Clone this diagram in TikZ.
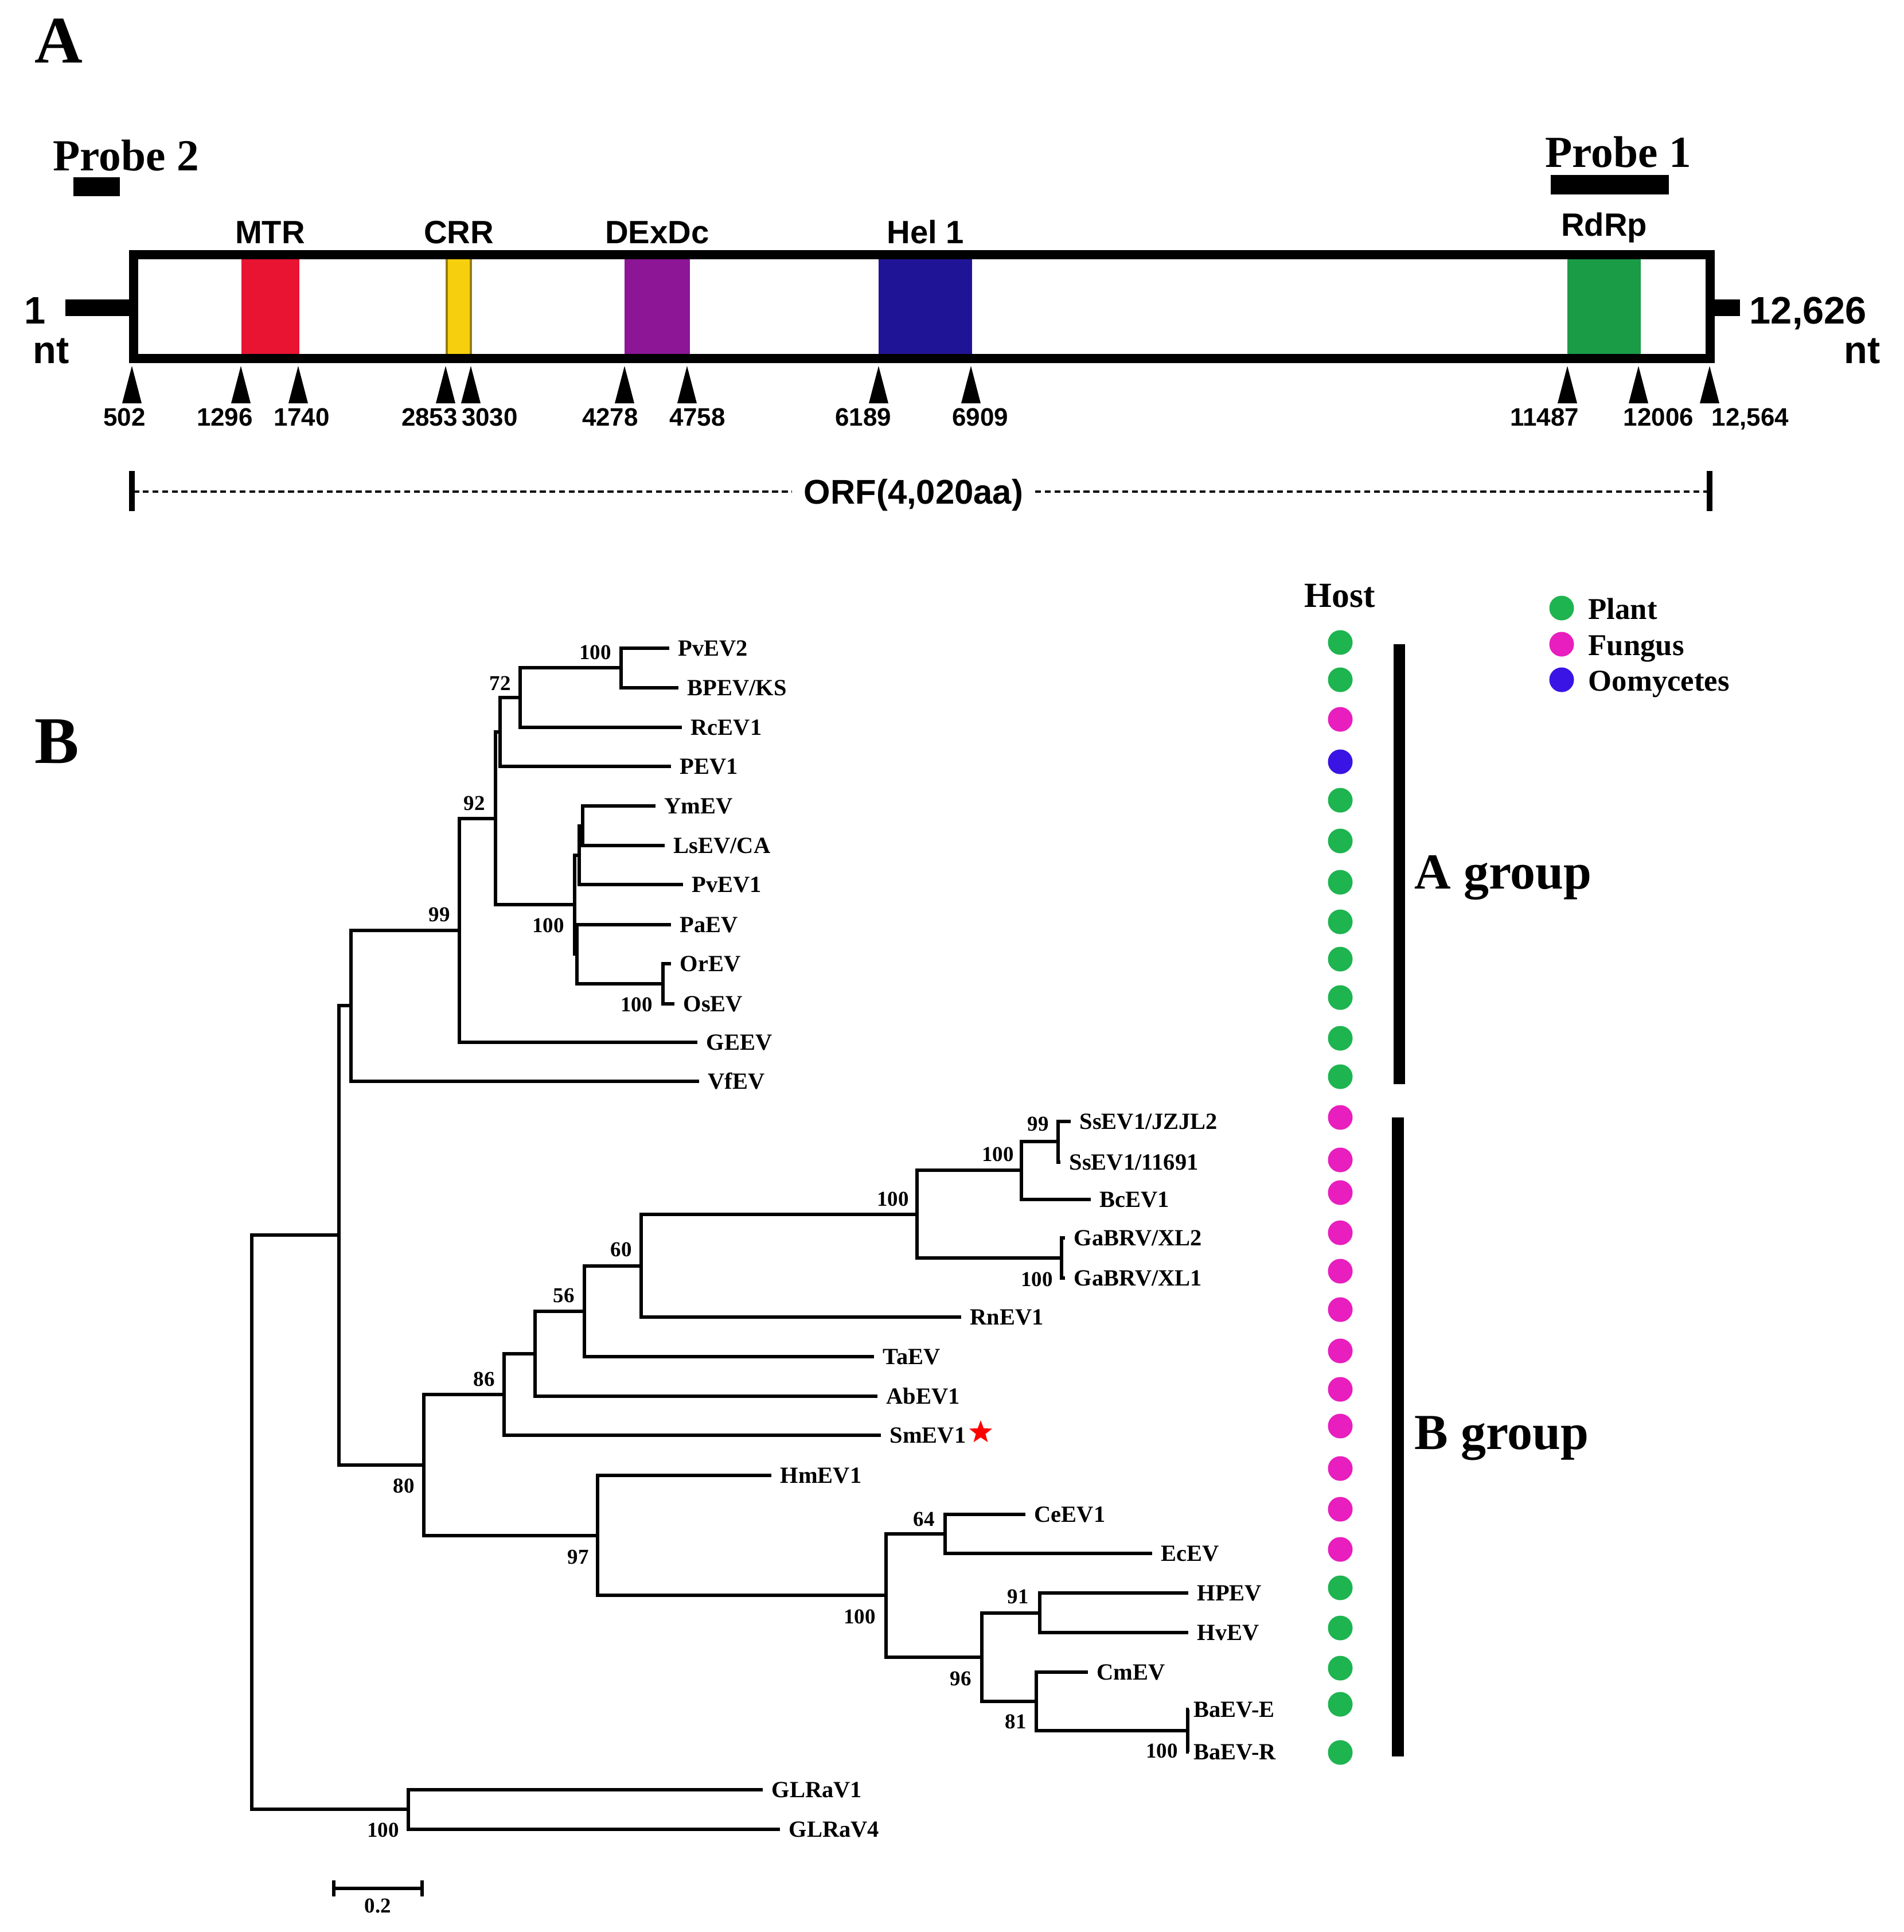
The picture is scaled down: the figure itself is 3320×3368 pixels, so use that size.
\documentclass[tikz,border=0pt]{standalone}
\usepackage{fontspec}
\setmainfont{Liberation Serif}
\setsansfont{Liberation Sans}
\usetikzlibrary{shapes.geometric}
\definecolor{mtrred}{RGB}{232,20,50}
\definecolor{crryel}{RGB}{246,208,14}
\definecolor{crrolive}{RGB}{150,125,20}
\definecolor{dexpur}{RGB}{140,22,150}
\definecolor{helblue}{RGB}{32,20,150}
\definecolor{rdrpgrn}{RGB}{26,155,70}
\definecolor{hostgreen}{RGB}{30,180,80}
\definecolor{hostmag}{RGB}{232,30,190}
\definecolor{hostblue}{RGB}{58,20,228}
\newcommand\mkclade[3]{\draw[br] (#2) -| (#1) |- (#3);}
\begin{document}
\begin{tikzpicture}[x=0.01cm,y=-0.01cm,
 panel/.style={font=\fontsize{33}{33}\selectfont\bfseries, inner sep=0},
 probe/.style={font=\fontsize{22}{22}\selectfont\bfseries, inner sep=0},
 dom/.style={font=\sffamily\bfseries\fontsize{16}{16}\selectfont, inner sep=0},
 poslab/.style={font=\sffamily\bfseries\fontsize{12.5}{12.5}\selectfont, inner sep=0},
 ends/.style={font=\sffamily\bfseries\fontsize{19}{19}\selectfont, inner sep=0},
 orfs/.style={font=\sffamily\bfseries\fontsize{17}{17}\selectfont, inner ysep=0, inner xsep=0.2cm},
 leaf/.style={font=\bfseries\fontsize{11.5}{11.5}\selectfont, anchor=west, inner xsep=1.5mm, inner ysep=0, text height=7.6pt, text depth=0pt},
 boot/.style={font=\bfseries\fontsize{10.5}{10.5}\selectfont, inner sep=0},
 br/.style={line width=1.5pt},
 hdot/.style={circle, minimum size=0.43cm, inner sep=0, draw=none},
 leg/.style={font=\bfseries\fontsize{15}{15}\selectfont, anchor=west, inner sep=0, text height=10pt, text depth=0pt},
 grp/.style={font=\bfseries\fontsize{25}{25}\selectfont, anchor=base west, inner sep=0},
 tri/.style={fill=black},
 orfdash/.style={line width=1.3pt, dash pattern=on 3pt off 1.8pt}
]
\useasboundingbox (0,0) rectangle (3320,3368);
\fill[white] (0,0) rectangle (3320,3368);

% ---------------- Panel A ----------------
\node[panel, anchor=base west] (pA) at (60,109) {A};
\node[probe, anchor=base west] (pr2) at (92,297) {Probe 2};
\fill (128,309) rectangle (209,342);
\node[probe, anchor=base west] (pr1) at (2694,291) {Probe 1};
\fill (2704,305) rectangle (2910,339);

% domains
\fill[mtrred] (421,444) rectangle (522,625);
\draw[crrolive, line width=1pt, fill=crryel] (779,444) rectangle (821,625);
\fill[dexpur] (1089,444) rectangle (1203,625);
\fill[helblue] (1532,444) rectangle (1695,625);
\fill[rdrpgrn] (2733,444) rectangle (2861,625);
% genome box
\draw[line width=4.3pt] (233,444) rectangle (2982,625);
\fill (114,522) rectangle (233,551);
\fill (2982,522) rectangle (3034,551);

\node[dom, anchor=base] (lmtr) at (471,424) {MTR};
\node[dom, anchor=base] (lcrr) at (800,424) {CRR};
\node[dom, anchor=base] (ldex) at (1146,424) {DExDc};
\node[dom, anchor=base] (lhel) at (1614,424) {Hel 1};
\node[dom, anchor=base] (lrdrp) at (2797,411) {RdRp};

\node[ends, anchor=base] (one) at (61,564) {1};
\node[ends, anchor=base] (ntl) at (89,633) {nt};
\node[ends, anchor=base west] (last) at (3050,564) {12,626};
\node[ends, anchor=base] (ntr) at (3247,633) {nt};

% position markers
\foreach \x in {230,420,520,777,821,1089,1198,1532,1693,2733,2857,2981}
  \fill[tri] (\x-17,703) -- (\x,638) -- (\x+17,703) -- cycle;
\foreach \x/\t [count=\i] in {217/502,392/1296,526/1740,749/2853,854/3030,1064/4278,1216/4758,1505/6189,1709/6909,2693/11487,2892/12006,3052/{12,564}}
  \node[poslab, anchor=base] (ps\i) at (\x,742) {\t};

% ORF
\draw[line width=3pt] (230,821) -- (230,891);
\draw[line width=3pt] (2981,821) -- (2981,891);
\coordinate (orfl) at (232,857);
\coordinate (orfr) at (2979,857);
\node[orfs, anchor=base] (orf) at (1593,878) {ORF(4,020aa)};
\draw[orfdash] (orfl) -- (orfl -| orf.west);
\draw[orfdash] (orfr -| orf.east) -- (orfr);

% ---------------- Panel B ----------------
\node[panel, anchor=base west] (pB) at (60,1330) {B};

% leaves, A group
\node[leaf] (pvevtwo) at (1167,1130) {PvEV2};
\node[leaf] (bpev) at (1183,1199) {BPEV/KS};
\node[leaf] (rcev) at (1189,1268) {RcEV1};
\node[leaf] (pev) at (1170,1336) {PEV1};
\node[leaf] (ymev) at (1143,1405) {YmEV};
\node[leaf] (lsev) at (1159,1474) {LsEV/CA};
\node[leaf] (pvevone) at (1191,1542) {PvEV1};
\node[leaf] (paev) at (1170,1612) {PaEV};
\node[leaf] (orev) at (1170,1680) {OrEV};
\node[leaf] (osev) at (1176,1750) {OsEV};
\node[leaf] (geev) at (1216,1817) {GEEV};
\node[leaf] (vfev) at (1219,1885) {VfEV};
% leaves, B group
\node[leaf] (ssj) at (1867,1955) {SsEV1/JZJL2};
\node[leaf] (sso) at (1849,2026) {SsEV1/11691};
\node[leaf] (bcev) at (1902,2091) {BcEV1};
\node[leaf] (gaxtwo) at (1857,2158) {GaBRV/XL2};
\node[leaf] (gaxone) at (1857,2228) {GaBRV/XL1};
\node[leaf] (rnev) at (1676,2296) {RnEV1};
\node[leaf] (taev) at (1524,2365) {TaEV};
\node[leaf] (abev) at (1530,2434) {AbEV1};
\node[leaf] (smev) at (1536,2502) {SmEV1};
\node[leaf] (hmev) at (1345,2572) {HmEV1};
\node[leaf] (ceev) at (1788,2640) {CeEV1};
\node[leaf] (ecev) at (2009,2708) {EcEV};
\node[leaf] (hpev) at (2072,2777) {HPEV};
\node[leaf] (hvev) at (2072,2846) {HvEV};
\node[leaf] (cmev) at (1897,2915) {CmEV};
\node[leaf, inner xsep=0.8mm] (baeve) at (2073,2980) {BaEV-E};
\node[leaf, inner xsep=0.8mm] (baevr) at (2073,3054) {BaEV-R};
\node[leaf] (glone) at (1330,3120) {GLRaV1};
\node[leaf] (glfour) at (1360,3189) {GLRaV4};
\node[star, star points=5, star point ratio=2.4, fill=red, inner sep=0, minimum size=0.42cm] (star) at (1710,2497) {};

% internal nodes
\coordinate (a1) at (1083,1164);
\coordinate (a2) at (907,1216);
\coordinate (a3) at (872,1276);
\coordinate (a4) at (1156,1715);
\coordinate (a5) at (1016,1440);
\coordinate (a6) at (1010,1491);
\coordinate (a7) at (1006,1663);
\coordinate (a8) at (1002,1577);
\coordinate (a9) at (864,1427);
\coordinate (a10) at (801,1622);
\coordinate (a11) at (612,1753);
\coordinate (b1) at (1845,1990);
\coordinate (b2) at (1781,2040);
\coordinate (b3) at (1851,2193);
\coordinate (b4) at (1599,2117);
\coordinate (b5) at (1118,2207);
\coordinate (b6) at (1019,2286);
\coordinate (b7) at (933,2360);
\coordinate (b8) at (879,2431);
\coordinate (b9) at (1648,2674);
\coordinate (b10) at (1813,2812);
\coordinate (b11) at (2071,3017);
\coordinate (b12) at (1807,2966);
\coordinate (b13) at (1712,2889);
\coordinate (b14) at (1545,2781);
\coordinate (b15) at (1042,2677);
\coordinate (b16) at (739,2554);
\coordinate (b17) at (591,2153);
\coordinate (g1) at (712,3154);
\coordinate (root) at (439,2654);

\mkclade{a1}{pvevtwo.west}{bpev.west}
\mkclade{a2}{a1}{rcev.west}
\mkclade{a3}{a2}{pev.west}
\mkclade{a4}{orev.west}{osev.west}
\mkclade{a5}{ymev.west}{lsev.west}
\mkclade{a6}{a5}{pvevone.west}
\mkclade{a7}{paev.west}{a4}
\mkclade{a8}{a6}{a7}
\mkclade{a9}{a3}{a8}
\mkclade{a10}{a9}{geev.west}
\mkclade{a11}{a10}{vfev.west}
\mkclade{b1}{ssj.west}{sso.west}
\mkclade{b2}{b1}{bcev.west}
\mkclade{b3}{gaxtwo.west}{gaxone.west}
\mkclade{b4}{b2}{b3}
\mkclade{b5}{b4}{rnev.west}
\mkclade{b6}{b5}{taev.west}
\mkclade{b7}{b6}{abev.west}
\mkclade{b8}{b7}{smev.west}
\mkclade{b9}{ceev.west}{ecev.west}
\mkclade{b10}{hpev.west}{hvev.west}
\mkclade{b11}{baeve.west}{baevr.west}
\mkclade{b12}{cmev.west}{b11}
\mkclade{b13}{b10}{b12}
\mkclade{b14}{b9}{b13}
\mkclade{b15}{hmev.west}{b14}
\mkclade{b16}{b8}{b15}
\mkclade{b17}{a11}{b16}
\mkclade{g1}{glone.west}{glfour.west}
\mkclade{root}{b17}{g1}

% bootstrap values
\node[boot] (bs1) at (1038,1137) {100};
\node[boot] (bs2) at (872,1191) {72};
\node[boot] (bs3) at (827,1400) {92};
\node[boot] (bs4) at (956,1613) {100};
\node[boot] (bs5) at (1110,1751) {100};
\node[boot] (bs6) at (766,1594) {99};
\node[boot] (bs7) at (1810,1959) {99};
\node[boot] (bs8) at (1740,2012) {100};
\node[boot] (bs9) at (1808,2230) {100};
\node[boot] (bs10) at (1557,2090) {100};
\node[boot] (bs11) at (1083,2178) {60};
\node[boot] (bs12) at (983,2258) {56};
\node[boot] (bs13) at (844,2404) {86};
\node[boot] (bs14) at (704,2590) {80};
\node[boot] (bs15) at (1008,2714) {97};
\node[boot] (bs16) at (1611,2648) {64};
\node[boot] (bs17) at (1499,2818) {100};
\node[boot] (bs18) at (1775,2783) {91};
\node[boot] (bs19) at (1675,2926) {96};
\node[boot] (bs20) at (1771,3001) {81};
\node[boot] (bs21) at (2026,3052) {100};
\node[boot] (bs22) at (668,3190) {100};

% scale bar
\coordinate (sbl) at (582,3292);
\coordinate (sbr) at (736,3292);
\draw[br] (sbl) -- (sbr);
\draw[br] ([yshift=0.14cm]sbl) -- ([yshift=-0.14cm]sbl);
\draw[br] ([yshift=0.14cm]sbr) -- ([yshift=-0.14cm]sbr);
\node[boot] (sbt) at (659,3322) {0.2};

% host column
\node[font=\bfseries\fontsize{17.5}{17.5}\selectfont, anchor=base, inner sep=0] (host) at (2336,1058) {Host};
\foreach \y/\c [count=\i] in {1120/hostgreen,1185/hostgreen,1254/hostmag,1328/hostblue,1395/hostgreen,1466/hostgreen,1538/hostgreen,1607/hostgreen,1672/hostgreen,1739/hostgreen,1810/hostgreen,1877/hostgreen,1948/hostmag,2022/hostmag,2079/hostmag,2149/hostmag,2216/hostmag,2283/hostmag,2355/hostmag,2422/hostmag,2486/hostmag,2560/hostmag,2631/hostmag,2701/hostmag,2768/hostgreen,2838/hostgreen,2908/hostgreen,2971/hostgreen,3055/hostgreen}
  \node[hdot, fill=\c] (h\i) at (2337,\y) {};

% group bars
\fill (2430,1123) rectangle (2450,1890);
\fill (2427,1948) rectangle (2448,3062);
\node[grp] (ga) at (2466,1549) {A group};
\node[grp] (gb) at (2466,2526) {B group};

% legend
\node[hdot, fill=hostgreen] (lg1) at (2723,1060) {};
\node[hdot, fill=hostmag] (lg2) at (2723,1123) {};
\node[hdot, fill=hostblue] (lg3) at (2723,1185) {};
\node[leg] (lt1) at (2769,1062) {Plant};
\node[leg] (lt2) at (2769,1125) {Fungus};
\node[leg] (lt3) at (2769,1187) {Oomycetes};
\end{tikzpicture}
\end{document}
